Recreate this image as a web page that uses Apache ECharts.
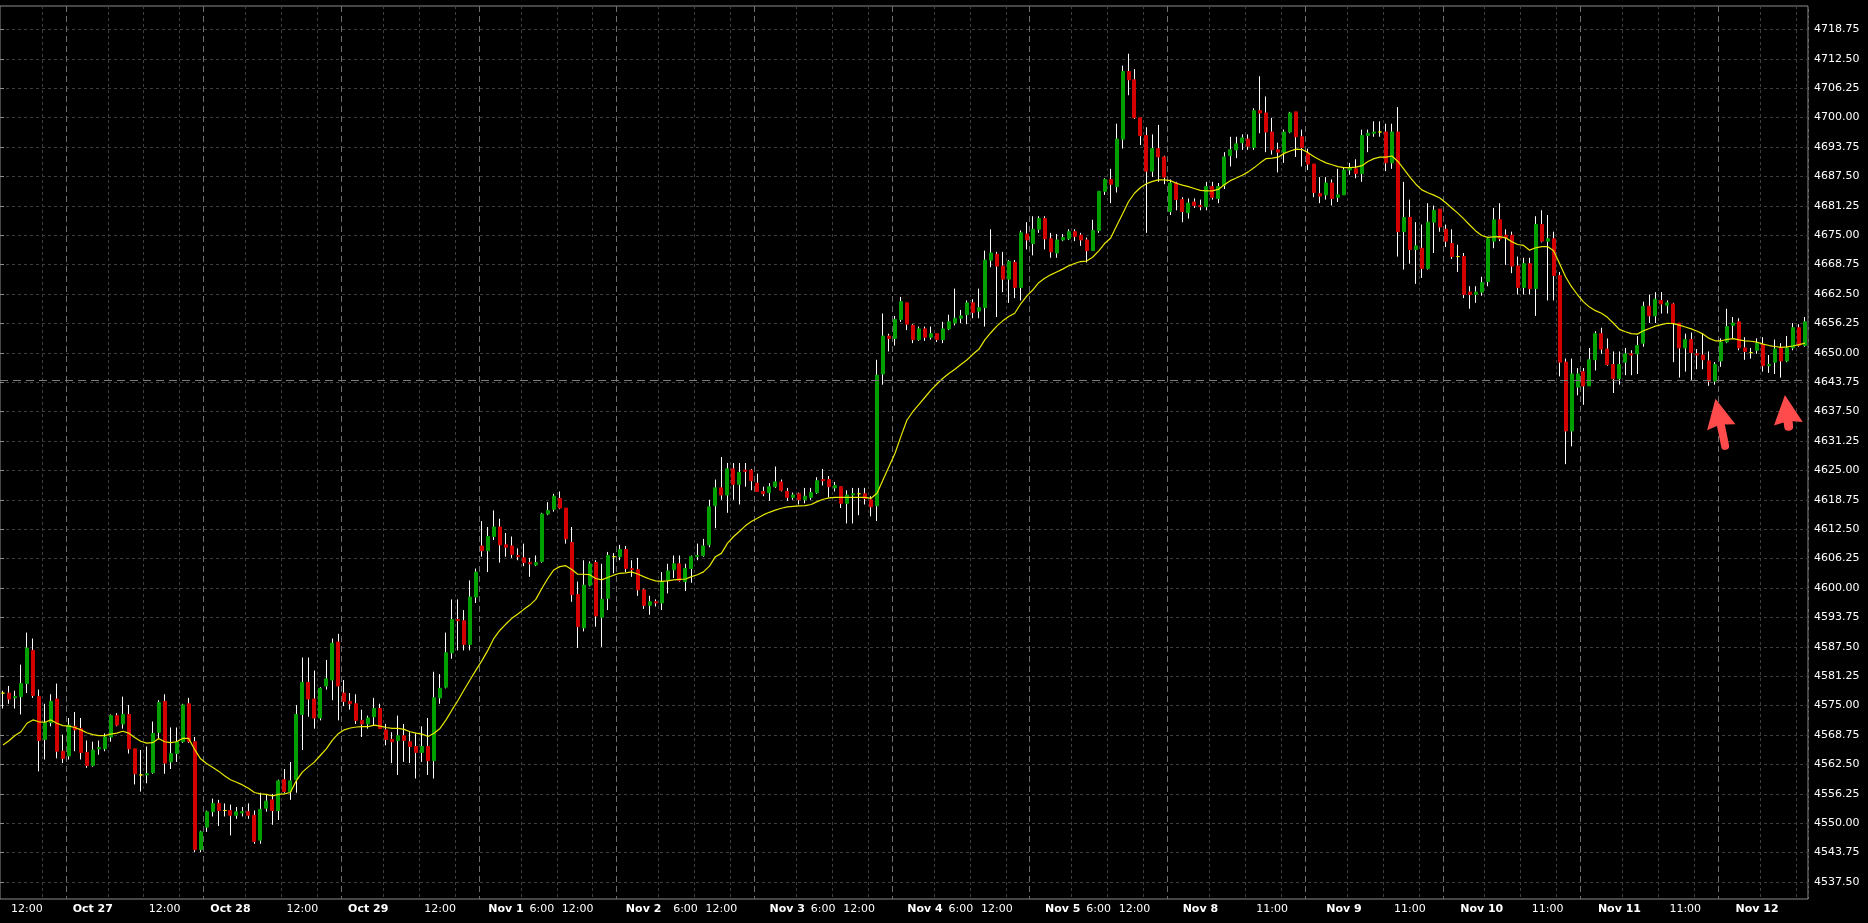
<!DOCTYPE html>
<html><head><meta charset="utf-8">
<script src="https://cdn.jsdelivr.net/npm/echarts@6/dist/echarts.min.js"></script>
<style>html,body{margin:0;padding:0;background:#000;}#c{width:1868px;height:923px;}</style>
</head><body><div id="c"></div>
<script>
// ---------- DATA (hourly bars) ----------
const opens = [
4577.25,4577.25,4576.25,4576.5,4579.25,4586.25,4576.5,4567.5,4571.0,4576.0,
4565.0,4564.0,4570.25,4569.75,4564.75,4562.0,4565.5,4565.5,4568.0,4572.5,
4570.75,4572.75,4565.5,4560.0,4560.0,4560.5,4569.0,4575.5,4562.75,4564.5,
4567.0,4575.0,4567.0,4544.25,4549.0,4552.25,4554.0,4552.5,4552.5,4551.5,
4552.0,4552.25,4551.5,4546.25,4553.0,4554.75,4552.5,4559.0,4556.5,4559.0,
4572.75,4579.5,4576.0,4572.0,4578.75,4580.0,4588.0,4577.25,4575.5,4575.0,
4571.5,4570.75,4572.25,4574.0,4569.5,4567.5,4567.25,4568.25,4567.0,4566.0,
4564.75,4566.0,4563.0,4576.25,4578.5,4585.75,4592.75,4592.5,4587.5,4597.5,
4608.25,4607.25,4610.25,4612.25,4608.5,4608.25,4606.25,4605.75,4604.75,4604.25,
4605.0,4615.0,4616.0,4618.25,4616.25,4609.0,4598.0,4591.0,4600.0,4604.75,
4593.25,4597.25,4606.0,4606.0,4607.5,4603.5,4603.25,4599.0,4595.75,4596.5,
4596.25,4601.0,4603.25,4604.5,4600.75,4603.5,4606.0,4606.25,4608.5,4616.75,
4620.5,4619.0,4624.5,4621.25,4624.25,4624.25,4621.5,4619.75,4619.5,4620.75,
4621.75,4619.75,4618.5,4619.25,4618.0,4618.5,4619.5,4622.25,4622.25,4620.5,
4620.75,4617.25,4619.0,4619.25,4619.25,4618.0,4616.75,4644.5,4652.5,4652.0,
4656.0,4659.5,4654.75,4651.75,4654.0,4652.25,4653.0,4651.75,4654.0,4655.25,
4656.25,4657.0,4659.5,4657.75,4658.5,4668.5,4669.75,4667.25,4664.5,4668.0,
4662.75,4674.0,4672.0,4675.0,4677.25,4673.0,4670.0,4672.75,4673.0,4674.5,
4673.75,4672.75,4670.5,4674.75,4683.0,4685.5,4684.0,4694.0,4708.25,4706.5,
4698.5,4694.75,4687.25,4692.0,4690.25,4678.75,4684.75,4681.25,4678.5,4680.75,
4680.0,4679.75,4684.0,4681.5,4684.25,4690.5,4691.75,4693.25,4694.0,4692.25,
4700.0,4699.5,4695.5,4691.75,4691.25,4695.5,4699.75,4694.5,4691.0,4688.75,
4682.5,4682.25,4684.75,4681.75,4682.25,4687.5,4687.75,4686.75,4694.75,4695.25,
4695.5,4695.5,4689.0,4695.5,4674.5,4677.5,4670.75,4671.0,4666.75,4676.5,
4679.25,4675.0,4672.0,4669.25,4669.25,4661.75,4661.25,4661.75,4664.0,4672.5,
4677.0,4673.75,4673.75,4667.25,4662.75,4667.75,4662.5,4676.0,4672.5,4673.0,
4665.25,4647.0,4632.5,4641.75,4645.0,4642.0,4647.5,4653.0,4649.75,4646.5,
4643.5,4647.0,4648.75,4648.75,4651.0,4658.75,4656.75,4660.0,4659.0,4659.25,
4655.25,4650.0,4651.75,4648.75,4648.5,4647.25,4643.0,4647.25,4651.25,4654.75,
4655.5,4650.0,4649.0,4649.5,4650.75,4646.25,4647.0,4650.0,4647.25,4650.0,
4654.25,4650.5];
const closes = [
4577.25,4576.0,4576.5,4579.25,4586.75,4576.75,4567.25,4571.0,4575.5,4565.0,
4563.5,4570.5,4569.5,4564.75,4562.0,4565.25,4565.75,4568.0,4572.5,4570.5,
4572.75,4565.5,4560.25,4560.0,4560.25,4568.75,4575.25,4562.5,4564.5,4567.0,
4574.75,4567.0,4544.25,4548.0,4552.25,4554.0,4552.5,4552.5,4551.5,4552.25,
4552.25,4551.5,4546.0,4552.75,4554.5,4552.5,4558.75,4556.5,4558.75,4572.75,
4579.5,4576.0,4572.0,4578.25,4580.25,4587.75,4578.75,4575.5,4575.0,4571.5,
4570.75,4572.0,4574.0,4569.75,4567.5,4567.0,4568.25,4567.25,4566.0,4564.75,
4566.0,4563.0,4576.25,4578.25,4585.75,4592.75,4592.5,4587.5,4597.5,4602.75,
4607.25,4610.25,4612.25,4608.5,4608.0,4606.5,4606.0,4604.75,4604.5,4604.75,
4615.0,4615.75,4618.75,4616.25,4609.75,4598.0,4591.25,4600.0,4604.5,4593.5,
4597.0,4606.25,4606.0,4607.5,4603.5,4603.25,4599.0,4595.75,4596.5,4596.25,
4600.75,4603.0,4604.5,4601.0,4603.5,4606.0,4606.25,4608.25,4616.5,4620.5,
4619.0,4624.5,4621.25,4623.75,4624.0,4622.0,4619.75,4619.25,4620.75,4621.75,
4620.0,4618.5,4619.0,4618.0,4618.75,4619.5,4622.0,4622.0,4620.75,4621.0,
4617.25,4619.0,4619.25,4619.25,4618.25,4616.5,4644.25,4652.5,4652.0,4656.0,
4659.75,4655.0,4651.75,4654.0,4652.25,4653.0,4651.75,4654.0,4655.5,4656.25,
4656.75,4659.5,4657.5,4658.5,4668.5,4670.0,4667.25,4664.5,4668.25,4662.75,
4674.25,4672.75,4675.0,4677.25,4673.0,4670.25,4672.75,4673.25,4674.5,4673.5,
4672.75,4670.5,4674.75,4683.0,4685.5,4684.5,4694.0,4708.25,4706.5,4698.5,
4694.75,4687.25,4692.0,4690.25,4686.0,4684.75,4681.25,4678.75,4680.5,4680.0,
4679.75,4684.0,4681.75,4684.0,4690.25,4691.75,4693.0,4694.25,4692.5,4700.0,
4699.5,4695.5,4691.75,4691.25,4695.5,4699.5,4694.5,4692.25,4688.75,4682.75,
4682.0,4684.75,4681.5,4682.25,4687.5,4688.0,4686.75,4694.75,4695.25,4695.5,
4695.5,4689.0,4695.5,4674.5,4677.5,4670.75,4671.5,4666.75,4676.5,4679.0,
4675.5,4672.5,4669.25,4669.25,4661.25,4661.25,4661.75,4663.75,4673.0,4677.0,
4673.0,4673.25,4667.25,4662.75,4667.75,4662.5,4676.0,4672.5,4673.0,4665.25,
4647.0,4632.5,4644.5,4644.5,4642.0,4647.5,4653.0,4649.75,4646.5,4643.5,
4646.5,4648.75,4648.5,4650.5,4658.75,4656.75,4660.25,4659.25,4659.5,4655.25,
4650.0,4651.75,4649.0,4648.5,4647.5,4643.0,4646.5,4651.25,4654.5,4655.25,
4650.0,4649.25,4649.0,4651.0,4646.25,4646.5,4649.75,4647.25,4650.0,4654.25,
4650.5,4655.5];
const lows = [
4574.0,4575.0,4574.0,4572.75,4577.25,4576.25,4560.75,4563.25,4570.25,4563.5,
4562.5,4563.25,4565.0,4563.25,4561.5,4561.75,4564.25,4565.0,4567.0,4570.25,
4569.75,4564.5,4558.0,4556.5,4558.25,4560.25,4567.5,4560.25,4561.25,4562.75,
4566.75,4566.75,4543.75,4543.75,4548.0,4551.25,4549.25,4551.25,4547.25,4550.75,
4551.25,4550.75,4545.5,4545.5,4552.25,4549.5,4550.5,4556.25,4554.75,4556.25,
4565.25,4572.25,4569.75,4571.5,4578.0,4575.75,4571.5,4574.5,4573.75,4570.75,
4568.0,4569.75,4570.5,4569.75,4566.25,4562.5,4560.0,4562.75,4562.5,4559.25,
4562.75,4560.0,4559.25,4575.0,4578.25,4584.5,4586.25,4586.25,4586.25,4596.25,
4606.0,4602.75,4609.5,4604.75,4606.0,4605.75,4605.25,4604.0,4601.75,4604.0,
4604.75,4614.75,4615.5,4616.0,4608.75,4596.5,4586.75,4590.25,4599.75,4591.25,
4587.0,4594.75,4602.5,4605.25,4602.75,4601.75,4597.75,4595.0,4593.75,4595.5,
4594.75,4598.25,4601.5,4600.75,4598.75,4600.5,4605.25,4606.0,4608.0,4612.0,
4618.0,4615.25,4618.0,4617.0,4620.75,4620.0,4619.75,4618.75,4617.75,4620.5,
4619.75,4617.75,4618.0,4617.0,4617.25,4618.0,4619.25,4621.0,4618.5,4619.75,
4616.25,4613.0,4613.0,4614.75,4617.0,4614.5,4613.5,4642.25,4649.25,4650.5,
4655.5,4653.75,4651.0,4651.5,4651.5,4651.75,4651.25,4651.0,4653.75,4654.75,
4655.25,4655.0,4656.25,4656.25,4654.5,4667.0,4656.5,4661.75,4659.5,4660.5,
4660.0,4670.75,4669.5,4674.25,4670.75,4669.0,4669.0,4672.5,4672.75,4672.5,
4671.5,4668.0,4670.5,4674.25,4682.25,4680.5,4682.75,4692.0,4703.25,4698.25,
4692.75,4674.25,4686.0,4685.0,4684.5,4678.0,4679.0,4676.5,4677.25,4679.5,
4679.0,4679.0,4681.25,4680.5,4683.5,4688.25,4690.0,4691.75,4691.75,4691.75,
4695.25,4691.25,4690.75,4687.0,4689.0,4695.25,4690.25,4688.25,4687.5,4681.75,
4680.5,4681.25,4680.0,4680.75,4682.25,4686.5,4685.75,4685.0,4691.25,4694.5,
4694.5,4687.25,4687.75,4669.25,4666.5,4667.75,4663.5,4664.75,4666.5,4670.0,
4674.5,4671.25,4668.75,4666.0,4660.5,4658.25,4659.5,4661.0,4663.0,4671.0,
4672.5,4667.5,4665.75,4661.25,4661.25,4661.25,4656.75,4672.25,4660.0,4660.0,
4644.0,4625.5,4629.25,4640.0,4638.0,4642.0,4645.25,4648.75,4646.25,4640.5,
4642.25,4644.25,4644.25,4644.5,4650.25,4655.25,4655.25,4657.25,4657.25,4647.0,
4643.75,4645.0,4643.25,4645.5,4645.5,4642.0,4642.25,4646.0,4651.0,4652.0,
4649.5,4647.5,4647.75,4648.75,4645.0,4644.75,4644.5,4643.75,4647.0,4649.5,
4650.25,4650.25];
const highs = [
4577.75,4578.75,4577.75,4583.25,4590.0,4588.75,4578.0,4575.0,4577.0,4579.25,
4568.5,4572.0,4573.25,4572.0,4567.25,4567.0,4567.25,4568.75,4572.75,4573.0,
4576.5,4574.75,4565.5,4565.25,4566.0,4571.25,4575.75,4577.0,4570.0,4570.0,
4575.0,4576.25,4568.0,4548.25,4552.5,4555.0,4554.75,4554.0,4553.75,4553.25,
4553.25,4554.0,4552.5,4556.25,4556.0,4556.0,4559.0,4561.25,4562.75,4574.75,
4584.75,4584.75,4582.0,4578.5,4584.25,4588.75,4589.75,4580.0,4577.25,4577.0,
4573.75,4572.5,4576.25,4575.0,4570.75,4569.0,4572.5,4570.75,4569.0,4568.75,
4570.25,4572.0,4581.75,4581.25,4590.0,4597.0,4597.0,4594.75,4601.0,4603.5,
4613.5,4612.25,4615.75,4614.0,4611.0,4610.25,4607.75,4608.75,4605.75,4606.25,
4615.25,4617.5,4619.25,4619.75,4616.25,4612.25,4600.75,4605.25,4605.0,4605.25,
4604.5,4607.0,4606.75,4608.5,4608.25,4605.25,4605.75,4599.25,4597.75,4597.0,
4602.75,4604.5,4606.25,4606.25,4604.5,4606.25,4608.75,4609.75,4618.0,4622.25,
4627.0,4625.75,4625.75,4625.75,4625.75,4624.5,4623.5,4620.75,4621.5,4625.0,
4622.25,4620.5,4619.5,4619.5,4620.5,4620.5,4622.75,4624.5,4623.0,4621.75,
4620.75,4620.0,4620.5,4620.5,4620.5,4618.75,4647.5,4657.25,4653.0,4656.75,
4660.75,4659.5,4655.0,4654.5,4654.5,4654.5,4653.0,4655.5,4657.0,4662.5,
4658.0,4660.0,4660.25,4662.5,4670.5,4675.0,4670.25,4670.25,4668.5,4668.5,
4674.75,4676.5,4677.75,4677.75,4677.75,4674.25,4674.0,4674.0,4675.0,4675.0,
4674.25,4673.25,4677.0,4683.0,4685.75,4687.75,4697.25,4709.5,4712.0,4708.75,
4698.5,4696.5,4695.0,4697.0,4690.5,4685.5,4685.0,4681.75,4681.5,4681.5,
4681.25,4685.0,4685.0,4684.75,4691.25,4694.5,4694.5,4695.0,4695.0,4700.5,
4707.25,4703.0,4698.5,4693.25,4696.0,4699.75,4699.75,4696.0,4692.0,4688.75,
4686.0,4686.0,4685.5,4687.75,4688.0,4689.0,4689.75,4696.0,4696.0,4697.75,
4697.75,4697.25,4697.25,4700.75,4685.0,4681.25,4676.5,4676.0,4680.5,4680.0,
4679.25,4676.0,4675.0,4671.75,4670.0,4663.0,4663.0,4665.0,4673.25,4679.5,
4680.5,4675.0,4674.5,4669.25,4669.0,4669.0,4677.75,4679.0,4678.0,4674.5,
4666.0,4647.75,4647.75,4645.75,4645.75,4650.0,4653.5,4654.25,4652.0,4649.25,
4649.25,4650.0,4649.5,4652.5,4659.75,4661.25,4661.75,4661.75,4660.0,4659.5,
4655.25,4653.0,4653.25,4649.75,4653.0,4649.25,4647.0,4652.0,4658.25,4656.5,
4656.25,4652.25,4650.0,4652.0,4652.25,4648.5,4651.75,4651.0,4652.5,4655.25,
4655.0,4656.5];
// moving average line as drawn on the chart
const movingAvg = [
4566.3,4567.2,4568.3,4569.1,4570.9,4571.6,4571.2,4571.1,4571.6,4570.9,
4570.4,4570.3,4570.0,4569.5,4568.9,4568.5,4568.3,4568.3,4568.6,4568.8,
4569.2,4568.8,4567.9,4567.1,4566.7,4566.8,4567.7,4567.0,4566.8,4567.0,
4567.7,4567.7,4565.4,4563.4,4562.4,4561.6,4560.8,4559.85,4559.0,4558.45,
4557.9,4557.2,4556.3,4556.0,4555.9,4555.6,4555.9,4556.0,4556.3,4558.8,
4560.6,4561.7,4562.7,4564.1,4565.5,4567.3,4568.7,4569.5,4569.9,4570.1,
4570.2,4570.2,4570.5,4570.3,4570.0,4569.8,4569.8,4569.6,4569.1,4568.8,
4568.6,4568.1,4568.8,4569.8,4571.6,4573.7,4575.7,4577.9,4580.0,4582.1,
4584.1,4586.3,4588.8,4590.5,4591.8,4593.0,4593.9,4594.9,4595.8,4597.0,
4599.3,4601.4,4603.2,4603.9,4604.1,4603.3,4602.3,4602.3,4602.2,4601.4,
4601.1,4601.6,4602.1,4602.5,4602.6,4602.8,4602.35,4601.8,4601.3,4600.9,
4600.8,4600.9,4601.1,4601.2,4601.3,4601.8,4602.2,4602.8,4604.0,4606.0,
4606.7,4608.8,4610.2,4611.3,4612.5,4613.4,4614.1,4614.8,4615.35,4615.8,
4616.2,4616.5,4616.6,4616.7,4616.75,4617.0,4617.6,4618.1,4618.4,4618.5,
4618.5,4618.5,4618.5,4618.5,4618.5,4618.3,4619.35,4622.2,4625.0,4627.8,
4631.4,4634.8,4636.6,4638.1,4639.6,4641.1,4642.4,4643.6,4644.6,4645.5,
4646.5,4647.45,4648.65,4649.7,4651.7,4653.2,4654.6,4655.7,4656.6,4657.3,
4659.3,4660.9,4662.2,4663.75,4664.7,4665.4,4666.0,4666.6,4667.3,4667.8,
4668.2,4668.3,4669.1,4670.4,4672.0,4673.1,4675.7,4678.2,4680.8,4682.6,
4683.8,4684.6,4685.1,4685.4,4685.4,4685.25,4684.7,4684.3,4684.0,4683.6,
4683.2,4683.1,4683.1,4683.4,4684.4,4685.25,4685.8,4686.4,4687.1,4688.0,
4689.0,4689.9,4690.0,4690.2,4691.0,4691.5,4691.9,4691.8,4691.15,4690.3,
4689.6,4689.0,4688.6,4688.2,4688.0,4688.0,4688.1,4688.4,4689.3,4689.9,
4690.2,4690.2,4690.45,4689.3,4687.7,4686.0,4684.5,4683.3,4682.7,4682.2,
4681.6,4680.6,4679.5,4678.4,4677.2,4675.9,4674.65,4673.7,4673.3,4673.4,
4673.45,4673.2,4672.4,4671.8,4671.6,4670.6,4671.1,4671.35,4671.35,4670.5,
4667.8,4665.0,4662.9,4661.2,4659.7,4658.6,4657.85,4657.3,4656.45,4655.2,
4653.9,4653.4,4653.0,4652.9,4653.6,4654.1,4654.6,4654.9,4655.2,4655.1,
4654.8,4654.4,4654.0,4653.5,4652.9,4652.0,4651.5,4651.5,4651.8,4651.95,
4651.7,4651.5,4651.4,4651.2,4650.8,4650.5,4650.3,4650.1,4650.2,4650.4,
4650.7,4651.0];
// bar index where each session (day) starts
const dayStarts = [11,34,57,80,103,126,149,172,195,218,241,264,287];
// bar index of intraday dotted grid lines
const intradayLines = [7,18,24,30,41,47,53,64,70,76,87,93,99,110,116,122,133,139,145,156,162,168,179,185,191,202,208,214,225,231,237,248,254,260,271,277,283,294,300];
// x-axis tick labels and the bar they sit under
const xLabelIndex = [4,15,27,38,50,61,73,84,90,96,107,114,120,131,137,143,154,160,166,177,183,189,200,212,224,235,247,258,270,281,293];
const xLabelText = ['12:00','Oct 27','12:00','Oct 28','12:00','Oct 29','12:00','Nov 1','6:00','12:00','Nov 2','6:00','12:00','Nov 3','6:00','12:00','Nov 4','6:00','12:00','Nov 5','6:00','12:00','Nov 8','11:00','Nov 9','11:00','Nov 10','11:00','Nov 11','11:00','Nov 12'];
// y-axis tick labels
const yTickFirst = 4537.5, yTickLast = 4718.75, yTickStep = 6.25;
const refLevel = 4643.25;          // long-dashed horizontal level
const arrowMarks = [               // red annotation arrows: [bar, price]
  {bar: 287, price: 4633.9, rotate: 11.6, w: 29, h: 52, offX: -0.5},
  {bar: 298, price: 4636.3, rotate: 6.8, w: 29, h: 36, offX: 0}
];

// ---------- LAYOUT ----------
const W = 1868, H = 923;
const plotRight = 1808, plotTop = 6, plotBottom = 899;
const yFirstPx = 881.7, yLastPx = 21.7;     // pixel rows of first/last y tick label
const pxPerUnit = (yFirstPx - yLastPx) / (yTickLast - yTickFirst);
const yMax0 = yTickLast + (yLastPx - plotTop) / pxPerUnit;
const yMin0 = yTickFirst - (plotBottom - yFirstPx) / pxPerUnit;
const yMin1 = yTickFirst - yTickStep, yMax1 = yTickLast + yTickStep;
const g1Top = yLastPx - yTickStep * pxPerUnit;
const g1Bottom = H - (yFirstPx + yTickStep * pxPerUnit);

const UP = '#00a000', DOWN = '#d40000', DOJI = '#f0f000';
const cats = opens.map((_, i) => String(i));
const labelMap = {};
xLabelIndex.forEach((k, j) => { labelMap[k] = xLabelText[j]; });
const daySet = new Set(dayStarts);
const intraSet = new Set(intradayLines);

const wickData = opens.map((o, i) => [o, closes[i], lows[i], highs[i]]);
const bodyData = opens.map((o, i) => {
  const c = closes[i];
  const item = {value: [o, c, Math.min(o, c), Math.max(o, c)]};
  if (o === c) item.itemStyle = {color: DOJI, color0: DOJI, borderColor: DOJI, borderColor0: DOJI};
  return item;
});

const arrowPaths = [
  'path://M14.5,0 L29,29 L18.5,27 L18.5,48 Q18.5,52 14.5,52 Q10.5,52 10.5,48 L10.5,27 L0,29 Z',
  'path://M14.5,0 L29,29 L19,27 L19,32 Q19,36 14.5,36 Q10,36 10,32 L10,27 L0,29 Z'
];

const FONT = 'DejaVu Sans';
const chart = echarts.init(document.getElementById('c'), null, {renderer: 'canvas'});
chart.setOption({
  animation: false,
  backgroundColor: '#000',
  grid: [
    {left: 0, right: W - plotRight, top: plotTop, bottom: H - plotBottom, show: true, borderColor: '#8c8c8c', borderWidth: 1, backgroundColor: 'transparent'},
    {left: 0, right: W - plotRight, top: g1Top, bottom: g1Bottom, show: false}
  ],
  xAxis: [
    {
      type: 'category', gridIndex: 0, data: cats, boundaryGap: true,
      axisLine: {show: false}, axisTick: {show: false},
      axisLabel: {
        color: '#fff', fontSize: 11, fontFamily: FONT, margin: 5,
        interval: (idx) => labelMap[idx] !== undefined,
        formatter: (v, idx) => {
          const t = labelMap[idx];
          if (t === undefined) return '';
          return /^[A-Z]/.test(t) ? '{b|' + t + '}' : '{n|' + t + '}';
        },
        rich: {
          b: {color: '#fff', fontSize: 11, fontWeight: 'bold', fontFamily: FONT},
          n: {color: '#fff', fontSize: 11, fontFamily: FONT}
        }
      },
      splitLine: {show: true, interval: (idx) => daySet.has(idx), lineStyle: {color: '#6e6e6e', width: 1, type: [6, 4]}}
    },
    {type: 'value', gridIndex: 1, min: 0, max: 1, show: false},
    {
      type: 'category', gridIndex: 0, data: cats, boundaryGap: true,
      axisLine: {show: false}, axisTick: {show: false}, axisLabel: {show: false},
      splitLine: {show: true, interval: (idx) => intraSet.has(idx), lineStyle: {color: '#3e3e3e', width: 1, type: [3, 3]}}
    }
  ],
  yAxis: [
    {type: 'value', gridIndex: 0, min: yMin0, max: yMax0, show: false, splitLine: {show: false}},
    {
      type: 'value', gridIndex: 1, position: 'right', min: yMin1, max: yMax1, interval: yTickStep,
      axisLine: {show: false},
      axisTick: {show: true, length: 4, lineStyle: {color: '#8c8c8c'}},
      axisLabel: {color: '#fff', fontSize: 11, fontFamily: FONT, margin: 6, showMinLabel: false, showMaxLabel: false,
        formatter: (v) => v.toFixed(2)},
      splitLine: {show: true, showMinLine: false, showMaxLine: false, lineStyle: {color: '#3e3e3e', width: 1, type: [3, 3]}}
    }
  ],
  series: [
    {
      name: 'wick', type: 'candlestick', xAxisIndex: 0, yAxisIndex: 0, data: wickData,
      barWidth: 1, silent: true, z: 2,
      itemStyle: {color: '#fff', color0: '#fff', borderColor: '#fff', borderColor0: '#fff', borderWidth: 1}
    },
    {
      name: 'body', type: 'candlestick', xAxisIndex: 0, yAxisIndex: 0, data: bodyData,
      barWidth: 3.5, silent: true, z: 3,
      itemStyle: {color: UP, color0: DOWN, borderColor: UP, borderColor0: DOWN, borderWidth: 1},
      markLine: {
        silent: true, symbol: ['none', 'none'], label: {show: false},
        lineStyle: {color: '#7c7c7c', width: 1, type: [8, 5]},
        data: [{yAxis: refLevel}]
      }
    },
    {
      name: 'MA', type: 'line', xAxisIndex: 0, yAxisIndex: 0, data: movingAvg,
      showSymbol: false, symbol: 'none', silent: true, z: 4,
      lineStyle: {color: '#e8e800', width: 1.2},
      markPoint: {
        silent: true, label: {show: false},
        data: arrowMarks.map((a, j) => ({
          coord: [a.bar, a.price], symbol: arrowPaths[j], symbolSize: [a.w, a.h],
          symbolRotate: a.rotate, symbolOffset: [a.offX, 0], symbolKeepAspect: false,
          itemStyle: {color: '#ff4b4b'}
        }))
      }
    }
  ]
});
</script>
</body></html>
